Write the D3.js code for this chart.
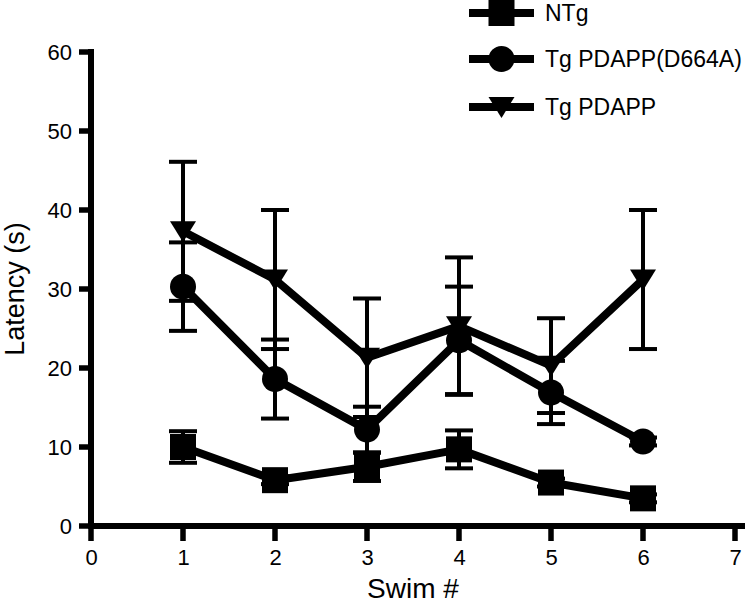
<!DOCTYPE html>
<html>
<head>
<meta charset="utf-8">
<script src="https://cdn.jsdelivr.net/npm/d3@7"></script>
<style>
  html, body { margin: 0; padding: 0; background: #fff; }
  svg { display: block; }
  text { font-family: "Liberation Sans", Arial, sans-serif; fill: #000; }
</style>
</head>
<body>
<svg id="chart" width="753" height="605"></svg>
<script>
// ---- Data ----
const swims = [1, 2, 3, 4, 5, 6];
const seriesNames = ["NTg", "Tg PDAPP(D664A)", "Tg PDAPP"];
const ntgMean = [10.0, 5.8, 7.5, 9.7, 5.5, 3.5];
const ntgErr  = [2.0, 0.5, 1.8, 2.4, 0.5, 0.5];
const d664aMean = [30.3, 18.6, 12.2, 23.5, 16.9, 10.7];
const d664aErr  = [5.6, 5.0, 2.9, 6.8, 4.0, 0.5];
const pdappMean = [37.3, 31.2, 21.3, 25.3, 20.3, 31.2];
const pdappErr  = [8.8, 8.8, 7.5, 8.7, 6.0, 8.8];
const xTicks = [0, 1, 2, 3, 4, 5, 6, 7];
const yTicks = [0, 10, 20, 30, 40, 50, 60];
const symbols = ["square", "circle", "triangleDown"];

const series = [
  { name: seriesNames[0], mean: ntgMean, err: ntgErr, symbol: symbols[0] },
  { name: seriesNames[1], mean: d664aMean, err: d664aErr, symbol: symbols[1] },
  { name: seriesNames[2], mean: pdappMean, err: pdappErr, symbol: symbols[2] }
];

const svg = d3.select("#chart");
const x = d3.scaleLinear().domain([0, 7]).range([91, 735]);
const y = d3.scaleLinear().domain([0, 60]).range([526, 52]);

// ---- Axes (labels from d3 axes, lines drawn explicitly thick) ----
const yAxis = d3.axisLeft(y).tickValues(yTicks).tickFormat(d3.format("d")).tickSize(12).tickSizeOuter(0).tickPadding(7);
const xAxis = d3.axisBottom(x).tickValues(xTicks).tickFormat(d3.format("d")).tickSize(15).tickSizeOuter(0).tickPadding(6);

const gy = svg.append("g").attr("transform", `translate(${x(0)},0)`).call(yAxis);
const gx = svg.append("g").attr("transform", `translate(0,${y(0)})`).call(xAxis);

[gx, gy].forEach(g => {
  g.select(".domain").remove();
  g.selectAll(".tick line").remove();
  g.selectAll(".tick text").style("font-size", "22px").style("font-family", "Liberation Sans, Arial, sans-serif").style("fill", "#000");
});
gx.selectAll(".tick text").attr("dy", "0.8em");
gy.selectAll(".tick text").attr("dy", "0.36em");

const axisLines = svg.append("g").attr("stroke", "#000");
// y axis line and ticks
axisLines.append("line").attr("x1", x(0)).attr("x2", x(0)).attr("y1", y(60) - 3).attr("y2", y(0) + 3).attr("stroke-width", 6);
axisLines.selectAll(".yt").data(yTicks).join("line")
  .attr("x1", x(0) - 12).attr("x2", x(0)).attr("y1", d => y(d)).attr("y2", d => y(d)).attr("stroke-width", 5.5);
// x axis line and ticks
axisLines.append("line").attr("x1", x(0) - 3).attr("x2", x(7) + 10).attr("y1", y(0)).attr("y2", y(0)).attr("stroke-width", 6);
axisLines.selectAll(".xt").data(xTicks).join("line")
  .attr("x1", d => x(d)).attr("x2", d => x(d)).attr("y1", y(0)).attr("y2", y(0) + 15).attr("stroke-width", 5.5);

// axis titles
svg.append("text")
  .attr("transform", `translate(24,${(y(0) + y(60)) / 2}) rotate(-90)`)
  .attr("text-anchor", "middle")
  .style("font-size", "27px")
  .text("Latency (s)");
svg.append("text")
  .attr("x", (x(0) + x(7)) / 2)
  .attr("y", 598)
  .attr("text-anchor", "middle")
  .style("font-size", "28px")
  .text("Swim #");

// ---- Symbols ----
function drawSymbol(g, type, cx, cy) {
  if (type === "square") {
    g.append("rect").attr("x", cx - 13).attr("y", cy - 13).attr("width", 26).attr("height", 26).attr("fill", "#000");
  } else if (type === "circle") {
    g.append("circle").attr("cx", cx).attr("cy", cy).attr("r", 13).attr("fill", "#000");
  } else {
    g.append("path").attr("d", `M${cx - 13},${cy - 10}L${cx + 13},${cy - 10}L${cx},${cy + 11}Z`).attr("fill", "#000");
  }
}

const line = d3.line().x(d => x(d[0])).y(d => y(d[1]));

// lines
series.forEach(s => {
  svg.append("path")
    .datum(swims.map((sw, i) => [sw, s.mean[i]]))
    .attr("d", line)
    .attr("fill", "none")
    .attr("stroke", "#000")
    .attr("stroke-width", 8)
    .attr("stroke-linejoin", "round");
});

// error bars
series.forEach(s => {
  const g = svg.append("g");
  swims.forEach((sw, i) => {
    const cx = x(sw);
    const top = y(s.mean[i] + s.err[i]);
    const bot = y(s.mean[i] - s.err[i]);
    g.append("line").attr("x1", cx).attr("x2", cx).attr("y1", top).attr("y2", bot).attr("stroke", "#000").attr("stroke-width", 4);
    [top, bot].forEach(yy => {
      g.append("line").attr("x1", cx - 14).attr("x2", cx + 14).attr("y1", yy).attr("y2", yy).attr("stroke", "#000").attr("stroke-width", 4);
    });
  });
});

// markers
series.forEach(s => {
  const g = svg.append("g");
  swims.forEach((sw, i) => drawSymbol(g, s.symbol, x(sw), y(s.mean[i])));
});

// ---- Legend ----
const legendY = [13, 59, 107];
series.forEach((s, i) => {
  const g = svg.append("g");
  g.append("line").attr("x1", 469).attr("x2", 534).attr("y1", legendY[i]).attr("y2", legendY[i]).attr("stroke", "#000").attr("stroke-width", 8);
  drawSymbol(g, s.symbol, 501.5, legendY[i]);
  g.append("text").attr("x", 545).attr("y", legendY[i]).attr("dy", "0.36em").style("font-size", "23px").text(s.name);
});
</script>
</body>
</html>
